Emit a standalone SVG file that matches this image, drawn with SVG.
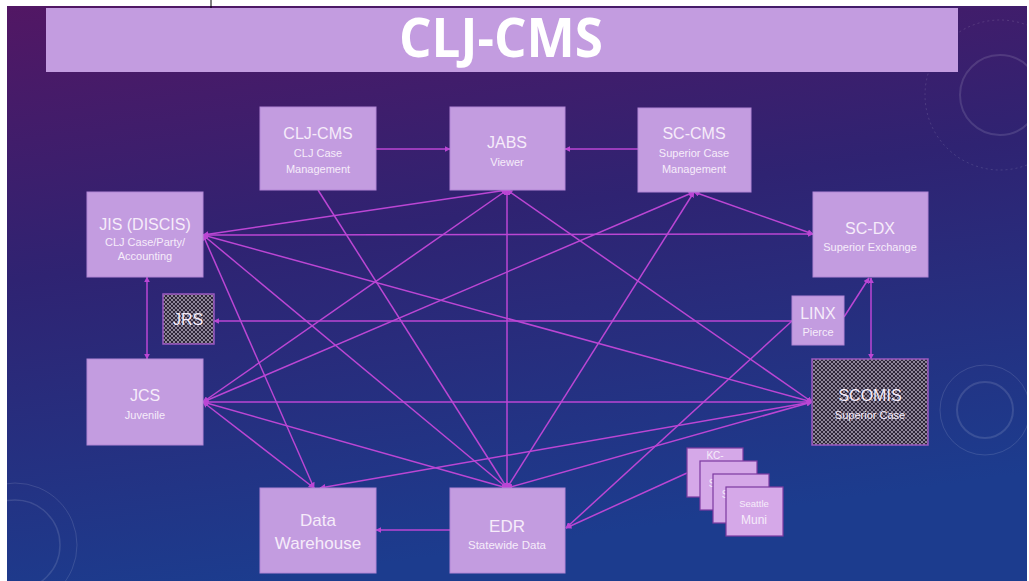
<svg xmlns="http://www.w3.org/2000/svg" width="1029" height="581" viewBox="0 0 1029 581">
<defs>
<linearGradient id="bg" x1="0" y1="0" x2="0.25" y2="1">
<stop offset="0" stop-color="#521764"/>
<stop offset="0.45" stop-color="#2f2372"/>
<stop offset="1" stop-color="#1c3c8e"/>
</linearGradient>
<pattern id="chk" width="4" height="4" patternUnits="userSpaceOnUse">
<rect width="4" height="4" fill="#2e2638"/>
<circle cx="0" cy="0" r="0.9" fill="#bdb4c8"/>
<circle cx="4" cy="0" r="0.9" fill="#bdb4c8"/>
<circle cx="0" cy="4" r="0.9" fill="#bdb4c8"/>
<circle cx="4" cy="4" r="0.9" fill="#bdb4c8"/>
<circle cx="2" cy="2" r="0.9" fill="#bdb4c8"/>
</pattern>
<marker id="ah" viewBox="0 0 10 10" refX="9" refY="5" markerWidth="6" markerHeight="6" markerUnits="userSpaceOnUse" orient="auto-start-reverse">
<path d="M0,0 L10,5 L0,10 z" fill="#bb46d4"/>
</marker>
</defs>
<style>
.node{fill:#c39ce0;stroke:#b286d6;stroke-width:1}
.pat{fill:url(#chk);stroke:#9a58c0;stroke-width:1.5}
.stk{fill:#d5a8e8;stroke:#7c3aa0;stroke-width:1.2}
.t{font-family:"Liberation Sans",Arial,sans-serif;fill:#f6ecfa;text-anchor:middle}
.h{font-size:16px}
.s{font-size:11px}
.c line{stroke:#bb46d4;stroke-width:1.5}
.a line{marker-end:url(#ah)}
.b line{marker-start:url(#ah);marker-end:url(#ah)}
.deco{fill:none;stroke:#ffffff;stroke-opacity:0.12}
</style>
<rect width="1029" height="581" fill="#ffffff"/>
<rect x="7" y="6" width="1020" height="575" fill="url(#bg)"/>
<line x1="211" y1="0" x2="211" y2="9" stroke="#000" stroke-width="1"/>
<g id="decor">
<circle class="deco" cx="1000" cy="95" r="40" stroke-width="2"/>
<circle class="deco" cx="1000" cy="95" r="75" stroke-width="1" stroke-dasharray="2 3"/>
<circle class="deco" cx="985" cy="410" r="28" stroke-width="2"/>
<circle class="deco" cx="985" cy="410" r="45" stroke-width="1"/>
<circle class="deco" cx="15" cy="545" r="45" stroke-width="1.5"/>
<circle class="deco" cx="15" cy="545" r="62" stroke-width="1"/>
</g>
<g id="title">
<rect x="46" y="8" width="912" height="64" fill="#c39ce0"/>
<text x="501" y="57" font-family="'Open Sans','Liberation Sans',sans-serif" font-weight="bold" font-size="54" fill="#ffffff" text-anchor="middle" textLength="204" lengthAdjust="spacingAndGlyphs">CLJ-CMS</text>
</g>
<g id="connectors" class="c">
<g class="a">
<line x1="376" y1="149" x2="450" y2="149"/>
<line x1="638" y1="149" x2="565" y2="149"/>
<line x1="792" y1="321" x2="214" y2="321"/>
<line x1="844" y1="317" x2="869" y2="278"/>
<line x1="318" y1="190" x2="507" y2="488"/>
<line x1="792" y1="321" x2="566" y2="528"/>
<line x1="687" y1="473" x2="566" y2="528"/>
<line x1="450" y1="530" x2="376" y2="530"/>
</g>
<g class="b">
<line x1="147" y1="277" x2="147" y2="359"/>
<line x1="871" y1="278" x2="871" y2="359"/>
<line x1="203" y1="235" x2="507" y2="190"/>
<line x1="203" y1="235" x2="813" y2="234"/>
<line x1="203" y1="235" x2="812" y2="402"/>
<line x1="203" y1="235" x2="507" y2="488"/>
<line x1="203" y1="235" x2="314" y2="488"/>
<line x1="203" y1="402" x2="507" y2="190"/>
<line x1="203" y1="402" x2="694" y2="192"/>
<line x1="203" y1="402" x2="812" y2="402"/>
<line x1="203" y1="402" x2="507" y2="488"/>
<line x1="203" y1="402" x2="314" y2="488"/>
<line x1="507" y1="190" x2="507" y2="488"/>
<line x1="507" y1="190" x2="812" y2="402"/>
<line x1="694" y1="192" x2="813" y2="234"/>
<line x1="694" y1="192" x2="507" y2="488"/>
<line x1="812" y1="402" x2="320" y2="488"/>
<line x1="812" y1="402" x2="507" y2="488"/>
</g>
</g>
<g id="n-cljcms">
<rect class="node" x="260" y="107" width="116" height="83"/>
<text class="t h" x="318" y="139">CLJ-CMS</text>
<text class="t s" x="318" y="157">CLJ Case</text>
<text class="t s" x="318" y="173">Management</text>
</g>
<g id="n-jabs">
<rect class="node" x="450" y="107" width="115" height="83"/>
<text class="t h" x="507" y="148">JABS</text>
<text class="t s" x="507" y="166">Viewer</text>
</g>
<g id="n-sccms">
<rect class="node" x="638" y="108" width="113" height="84"/>
<text class="t h" x="694" y="139">SC-CMS</text>
<text class="t s" x="694" y="157">Superior Case</text>
<text class="t s" x="694" y="173">Management</text>
</g>
<g id="n-jis">
<rect class="node" x="87" y="192" width="116" height="85"/>
<text class="t h" x="145" y="230">JIS (DISCIS)</text>
<text class="t s" x="145" y="246">CLJ Case/Party/</text>
<text class="t s" x="145" y="260">Accounting</text>
</g>
<g id="n-jrs">
<rect class="pat" x="163" y="294" width="51" height="50"/>
<text class="t h" x="188" y="325">JRS</text>
</g>
<g id="n-scdx">
<rect class="node" x="813" y="192" width="115" height="85"/>
<text class="t h" x="870" y="234">SC-DX</text>
<text class="t s" x="870" y="251">Superior Exchange</text>
</g>
<g id="n-linx">
<rect class="node" x="792" y="296" width="52" height="49"/>
<text class="t h" x="818" y="319">LINX</text>
<text class="t s" x="818" y="336">Pierce</text>
</g>
<g id="n-jcs">
<rect class="node" x="87" y="359" width="116" height="86"/>
<text class="t h" x="145" y="401">JCS</text>
<text class="t s" x="145" y="419">Juvenile</text>
</g>
<g id="n-scomis">
<rect class="pat" x="812" y="359" width="116" height="86"/>
<text class="t h" x="870" y="401">SCOMIS</text>
<text class="t s" x="870" y="419">Superior Case</text>
</g>
<g id="n-dw">
<rect class="node" x="260" y="488" width="116" height="85"/>
<text class="t" font-size="17" x="318" y="526">Data</text>
<text class="t" font-size="17" x="318" y="549">Warehouse</text>
</g>
<g id="n-edr">
<rect class="node" x="450" y="488" width="115" height="85"/>
<text class="t" font-size="17" x="507" y="532">EDR</text>
<text class="t" font-size="11.5" x="507" y="549">Statewide Data</text>
</g>
<g id="n-muni">
<rect class="stk" x="687" y="448" width="56" height="49"/>
<text class="t" font-size="10" x="715" y="459">KC-</text>
<rect class="stk" x="700" y="461" width="57" height="49"/>
<text class="t" font-size="10" x="712" y="487">S</text>
<rect class="stk" x="713" y="474" width="56" height="49"/>
<text class="t" font-size="10" x="725" y="498">S</text>
<rect class="stk" x="726" y="487" width="57" height="49"/>
<text class="t" font-size="9.5" x="754" y="507">Seattle</text>
<text class="t" font-size="12" x="754" y="524">Muni</text>
</g>
</svg>
